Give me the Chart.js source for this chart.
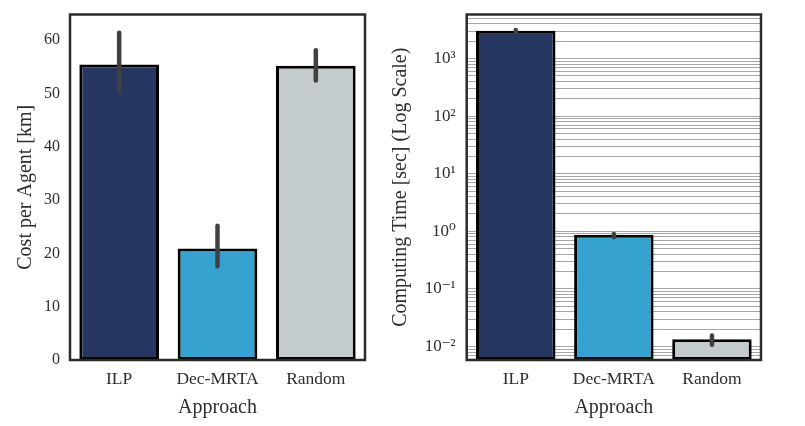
<!DOCTYPE html>
<html><head><meta charset="utf-8">
<script src="https://cdn.jsdelivr.net/npm/chart.js@4"></script>
<style>
html,body{margin:0;padding:0;background:#fff;width:805px;height:426px;overflow:hidden}
#w1{position:absolute;left:0;top:0;width:380px;height:426px}
#w2{position:absolute;left:380px;top:0;width:425px;height:426px}
</style></head><body>
<div id="w1"><canvas id="c1"></canvas></div>
<div id="w2"><canvas id="c2"></canvas></div>
<script>
// ---- data ----
const categories = ['ILP', 'Dec-MRTA', 'Random'];
const costValues = [55.4, 20.9, 55.2];
const costErrLow = [50.4, 17.6, 52.4];
const costErrHigh = [61.4, 25.2, 58.1];
const timeValues = [3040, 0.87, 0.0133];
const timeErrLow = [2880, 0.79, 0.0107];
const timeErrHigh = [3120, 0.90, 0.0156];
const costTicks = [0, 10, 20, 30, 40, 50, 60];
const timeMajorTicks = [0.01, 0.1, 1, 10, 100, 1000];
const timeTickLabels = ['10⁻²', '10⁻¹', '10⁰', '10¹', '10²', '10³'];
const timeMinorMultipliers = [2, 3, 4, 5, 6, 7, 8, 9];
const barColors = ['#253760', '#36a2cf', '#c4cbcd'];

const FAMILY = "'Liberation Serif', 'DejaVu Serif', serif";
const TEXT = '#2e2e2e';

const decorPlugin = {
  id: 'decor',
  afterDatasetsDraw(chart, args, opts) {
    const ctx = chart.ctx, meta = chart.getDatasetMeta(0), ys = chart.scales.y;
    ctx.save();
    ctx.strokeStyle = '#404040';
    ctx.lineWidth = opts.width;
    ctx.lineCap = 'round';
    meta.data.forEach((bar, i) => {
      ctx.beginPath();
      ctx.moveTo(bar.x, ys.getPixelForValue(opts.low[i]));
      ctx.lineTo(bar.x, ys.getPixelForValue(opts.high[i]));
      ctx.stroke();
    });
    const a = chart.chartArea;
    ctx.strokeStyle = '#2b2b2b';
    ctx.lineWidth = 2.5;
    ctx.lineCap = 'butt';
    ctx.strokeRect(a.left, a.top, a.right - a.left, a.bottom - a.top);
    ctx.restore();
  }
};

function xScale() {
  return {
    type: 'category',
    grid: { display: false, drawTicks: false },
    border: { display: false },
    ticks: { color: TEXT, font: { family: FAMILY, size: 17.5 }, padding: 9, maxRotation: 0 },
    title: { display: true, text: 'Approach', color: TEXT, font: { family: FAMILY, size: 20 }, padding: { top: 0, bottom: 6 } },
    afterFit(s) { s.height = 66; s.paddingLeft = 0; s.paddingRight = 0; }
  };
}

new Chart(document.getElementById('c1'), {
  type: 'bar',
  data: {
    labels: categories,
    datasets: [{
      data: costValues,
      backgroundColor: barColors,
      borderColor: '#000000',
      borderWidth: 3,
      borderSkipped: false,
      barPercentage: 0.81,
      categoryPercentage: 1.0
    }]
  },
  options: {
    responsive: true, maintainAspectRatio: false, animation: false,
    layout: { padding: { top: 14.5, right: 15, left: 0, bottom: 0 } },
    plugins: {
      legend: { display: false }, tooltip: { enabled: false },
      decor: { low: costErrLow, high: costErrHigh, width: 4.5 }
    },
    scales: {
      x: xScale(),
      y: {
        min: 0, max: 64.8,
        grid: { display: false, drawTicks: false },
        border: { display: false },
        afterBuildTicks(s) { s.ticks = costTicks.map(v => ({ value: v })); },
        ticks: { color: TEXT, font: { family: FAMILY, size: 16 }, padding: 10 },
        title: { display: true, text: 'Cost per Agent [km]', color: TEXT, font: { family: FAMILY, size: 20 }, padding: { top: 14, bottom: 0 } },
        afterFit(s) { s.width = 70; s.paddingTop = 0; s.paddingBottom = 0; }
      }
    }
  },
  plugins: [decorPlugin]
});

new Chart(document.getElementById('c2'), {
  type: 'bar',
  data: {
    labels: categories,
    datasets: [{
      data: timeValues,
      backgroundColor: barColors,
      borderColor: '#000000',
      borderWidth: 3,
      borderSkipped: false,
      barPercentage: 0.81,
      categoryPercentage: 1.0
    }]
  },
  options: {
    responsive: true, maintainAspectRatio: false, animation: false,
    layout: { padding: { top: 14.5, right: 44, left: 0, bottom: 0 } },
    plugins: {
      legend: { display: false }, tooltip: { enabled: false },
      decor: { low: timeErrLow, high: timeErrHigh, width: 4.5 }
    },
    scales: {
      x: xScale(),
      y: {
        type: 'logarithmic',
        min: 0.00583, max: 5810,
        grid: { display: true, color: '#a6a6a6', lineWidth: 1, drawTicks: false },
        border: { display: false },
        afterBuildTicks(s) {
          const t = [];
          timeMajorTicks.forEach(m => {
            t.push({ value: m, major: true });
          });
          [0.001].concat(timeMajorTicks).forEach(m => {
            timeMinorMultipliers.forEach(k => {
              const v = m * k;
              if (v >= s.min && v <= s.max) t.push({ value: v, major: false });
            });
          });
          t.sort((a, b) => a.value - b.value);
          s.ticks = t;
        },
        ticks: {
          color: TEXT, font: { family: FAMILY, size: 17 }, padding: 11, autoSkip: false,
          callback(v) {
            const i = timeMajorTicks.findIndex(m => Math.abs(m - v) / m < 1e-6);
            return i >= 0 ? timeTickLabels[i] : '';
          }
        },
        title: { display: true, text: 'Computing Time [sec] (Log Scale)', color: TEXT, font: { family: FAMILY, size: 20 }, padding: { top: 9, bottom: 0 } },
        afterFit(s) { s.width = 86.7; s.paddingTop = 0; s.paddingBottom = 0; }
      }
    }
  },
  plugins: [decorPlugin]
});
</script>
</body></html>
